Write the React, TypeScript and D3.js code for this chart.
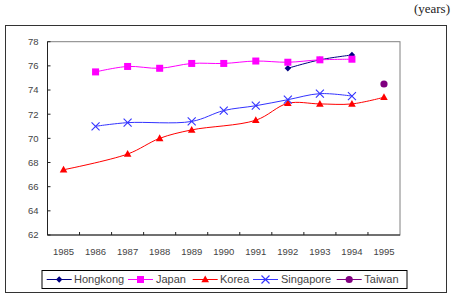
import React from "react";
import * as d3 from "d3";

const years = ["1985","1986","1987","1988","1989","1990","1991","1992","1993","1994","1995"];
const yTicks = [62, 64, 66, 68, 70, 72, 74, 76, 78];

const hongkong: (number | null)[] = [null, null, null, null, null, null, null, 75.8, 76.5, 76.9, null];
const japan: (number | null)[] = [null, 75.5, 75.95, 75.8, 76.2, 76.2, 76.4, 76.3, 76.5, 76.55, null];
const korea: (number | null)[] = [67.4, null, 68.7, 70.0, 70.7, null, 71.5, 72.9, 72.85, 72.85, 73.4];
const singapore: (number | null)[] = [null, 71.0, 71.3, null, 71.4, 72.3, 72.7, 73.2, 73.7, 73.5, null];
const taiwan: (number | null)[] = [null, null, null, null, null, null, null, null, null, null, 74.5];

const seriesNames = ["Hongkong", "Japan", "Korea", "Singapore", "Taiwan"];

type Marker = "diamond" | "square" | "triangle" | "x" | "circle";

const seriesDefs = [
  { name: seriesNames[0], values: hongkong, color: "#000080", marker: "diamond" as Marker },
  { name: seriesNames[1], values: japan, color: "#FF00FF", marker: "square" as Marker },
  { name: seriesNames[2], values: korea, color: "#FF0000", marker: "triangle" as Marker },
  { name: seriesNames[3], values: singapore, color: "#3333FF", marker: "x" as Marker },
  { name: seriesNames[4], values: taiwan, color: "#800080", marker: "circle" as Marker },
];

function MarkerShape({ type, x, y, color }: { type: Marker; x: number; y: number; color: string }) {
  switch (type) {
    case "diamond":
      return <path d={`M${x},${y - 3.2}L${x + 3.2},${y}L${x},${y + 3.2}L${x - 3.2},${y}Z`} fill={color} />;
    case "square":
      return <rect x={x - 3.5} y={y - 3.5} width={7} height={7} fill={color} />;
    case "triangle":
      return <path d={`M${x},${y - 4}L${x + 3.8},${y + 2.8}L${x - 3.8},${y + 2.8}Z`} fill={color} />;
    case "x":
      return (
        <path
          d={`M${x - 4},${y - 4}L${x + 4},${y + 4}M${x - 4},${y + 4}L${x + 4},${y - 4}`}
          stroke={color}
          strokeWidth={1.1}
          fill="none"
        />
      );
    case "circle":
      return <circle cx={x} cy={y} r={3.6} fill={color} />;
  }
}

export default function App() {
  const W = 451;
  const H = 294;
  const left = 47.5;
  const right = 400;
  const top = 41.7;
  const bottom = 235;

  const x = d3.scaleBand<string>().domain(years).range([left, right]).padding(0);
  const y = d3.scaleLinear().domain([62, 78]).range([bottom, top]);
  const cx = (yr: string) => (x(yr) as number) + x.bandwidth() / 2;

  const line = d3
    .line<[number, number]>()
    .x((d) => d[0])
    .y((d) => d[1])
    .curve(d3.curveCatmullRom.alpha(0.5));

  const font = "'Liberation Sans', Arial, sans-serif";
  const textColor = "#444";

  const legendItems = [
    { lineX: 46.7, textX: 74 },
    { lineX: 128, textX: 156 },
    { lineX: 192.7, textX: 220 },
    { lineX: 253, textX: 281 },
    { lineX: 336.7, textX: 364.3 },
  ];
  const legendY = 279.5;

  return (
    <svg width={W} height={H} style={{ position: "absolute", left: 0, top: 0, background: "#fff" }}>
      <text x={450} y={13} textAnchor="end" fontFamily="'Liberation Serif', 'Times New Roman', serif" fontSize={13} fill="#222">
        (years)
      </text>
      <rect x={5.5} y={25.5} width={441} height={267} fill="#fff" stroke="#333" strokeWidth={1} />
      <rect x={left} y={top} width={right - left} height={bottom - top} fill="#fff" stroke="#808080" strokeWidth={1} />
      <line x1={left} x2={left} y1={top} y2={bottom} stroke="#222" />
      <line x1={left} x2={right} y1={bottom} y2={bottom} stroke="#222" />
      {yTicks.map((t) => (
        <g key={t}>
          <line x1={left} x2={left + 3} y1={y(t)} y2={y(t)} stroke="#222" />
          <text x={38.5} y={y(t)} dy="0.35em" textAnchor="end" fontFamily={font} fontSize={9.5} fill={textColor}>
            {t}
          </text>
        </g>
      ))}
      {years.map((yr, i) => (
        <g key={yr}>
          {i > 0 && <line x1={x(yr)} x2={x(yr)} y1={bottom - 3} y2={bottom} stroke="#222" />}
          <text x={cx(yr)} y={252} dy="0.35em" textAnchor="middle" fontFamily={font} fontSize={9.5} fill={textColor}>
            {yr}
          </text>
        </g>
      ))}
      {seriesDefs.map((s) => {
        const pts: [number, number][] = [];
        s.values.forEach((v, i) => {
          if (v !== null) pts.push([cx(years[i]), y(v)]);
        });
        return (
          <g key={s.name}>
            {pts.length > 1 && <path d={line(pts) || ""} fill="none" stroke={s.color} strokeWidth={1} />}
            {pts.map((p, i) => (
              <MarkerShape key={i} type={s.marker} x={p[0]} y={p[1]} color={s.color} />
            ))}
          </g>
        );
      })}
      <rect x={42} y={270.5} width={365} height={18} fill="#fff" stroke="#000" strokeWidth={1} />
      {seriesDefs.map((s, i) => {
        const it = legendItems[i];
        return (
          <g key={s.name}>
            <line x1={it.lineX} x2={it.lineX + 25} y1={legendY} y2={legendY} stroke={s.color} strokeWidth={1} />
            <MarkerShape type={s.marker} x={it.lineX + 12.5} y={legendY} color={s.color} />
            <text x={it.textX} y={legendY} dy="0.36em" fontFamily={font} fontSize={11} fill={textColor}>
              {s.name}
            </text>
          </g>
        );
      })}
    </svg>
  );
}
